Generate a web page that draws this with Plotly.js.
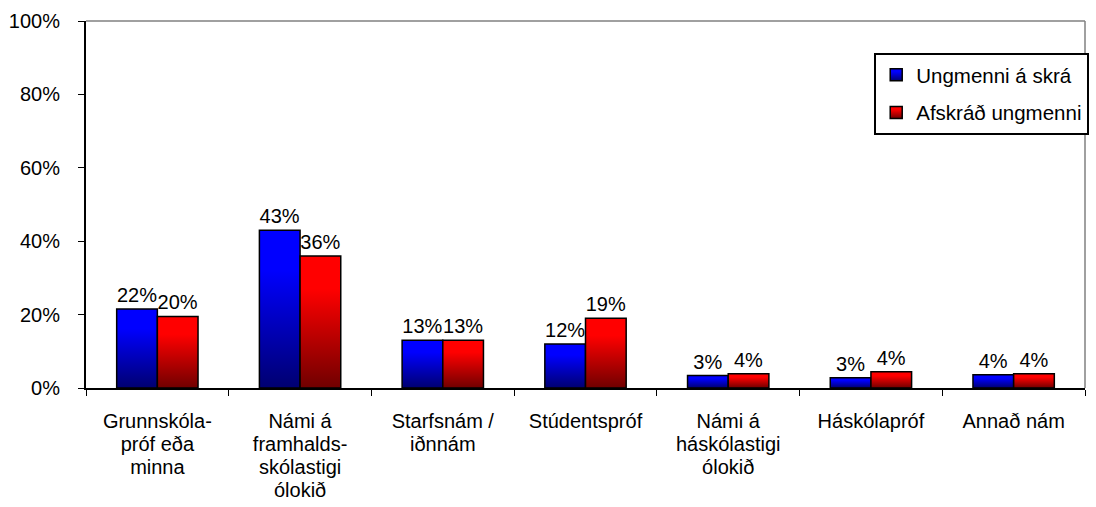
<!DOCTYPE html>
<html>
<head>
<meta charset="utf-8">
<script src="https://cdn.plot.ly/plotly-3.0.1.min.js"></script>
<style>
html,body{margin:0;padding:0;background:#fff;}
#chart{width:1096px;height:507px;}
</style>
</head>
<body>
<div id="chart"></div>
<script>
const categories = [
  "Grunnskóla-<br>próf eða<br>minna",
  "Námi á<br>framhalds-<br>skólastigi<br>ólokið",
  "Starfsnám /<br>iðnnám",
  "Stúdentspróf",
  "Námi á<br>háskólastigi<br>ólokið",
  "Háskólapróf",
  "Annað nám"
];
const seriesNames = ["Ungmenni á skrá", "Afskráð ungmenni"];
const onRegister = [0.215, 0.43, 0.13, 0.12, 0.034, 0.028, 0.036];
const deregistered = [0.195, 0.36, 0.13, 0.19, 0.039, 0.044, 0.039];
const yTickVals = [0, 0.2, 0.4, 0.6, 0.8, 1.0];

const font = {family: "Liberation Sans, Arial, sans-serif", size: 20, color: "#000"};
const legendFont = {family: "Liberation Sans, Arial, sans-serif", size: 20.5, color: "#000"};

const common = {
  type: "bar",
  texttemplate: "%{y:.0%}",
  textposition: "outside",
  cliponaxis: false,
  textfont: font,
  hoverinfo: "skip"
};

const traces = [
  Object.assign({}, common, {
    name: seriesNames[0], legendgroup: "a", x: categories, y: onRegister,
    marker: {color: "#0000ff", line: {color: "#000", width: 1.5}}
  }),
  Object.assign({}, common, {
    name: seriesNames[1], legendgroup: "b", x: categories, y: deregistered,
    marker: {color: "#ff0000", line: {color: "#000", width: 1.5}}
  })
];

const layout = {
  width: 1096, height: 507,
  margin: {l: 86, r: 11, t: 21, b: 119, autoexpand: false},
  paper_bgcolor: "#fff", plot_bgcolor: "#fff",
  font: font,
  barmode: "group",
  bargap: 0.43,
  bargroupgap: 0,
  showlegend: true,
  legend: {
    x: 0.789, xanchor: "left", y: 0.913, yanchor: "top",
    bgcolor: "#fff", bordercolor: "#000", borderwidth: 2,
    font: legendFont, itemwidth: 30,
    traceorder: "grouped", tracegroupgap: 8
  },
  xaxis: {
    type: "category", automargin: false,
    showline: true, linecolor: "#000", linewidth: 2,
    ticks: "outside", tickson: "boundaries", ticklen: 6, tickcolor: "#000", tickwidth: 1,
    showgrid: false, zeroline: false,
    tickfont: font, ticklabelstandoff: 14,
    fixedrange: true
  },
  yaxis: {
    range: [0, 1], automargin: false,
    tickvals: yTickVals, tickformat: ".0%",
    showline: true, linecolor: "#000", linewidth: 2,
    ticks: "outside", ticklen: 6, tickcolor: "#000", tickwidth: 1,
    showgrid: false, zeroline: false,
    tickfont: font, ticklabelstandoff: 14,
    fixedrange: true
  },
  shapes: [
    {type: "line", xref: "paper", yref: "paper", x0: 0, x1: 1, y0: 1, y1: 1, line: {color: "#808080", width: 1.5}},
    {type: "line", xref: "paper", yref: "paper", x0: 1, x1: 1, y0: 0, y1: 1, line: {color: "#808080", width: 1.5}}
  ]
};

function decorate(gd) {
  const svg = gd.querySelector("svg.main-svg");
  const NS = "http://www.w3.org/2000/svg";
  if (!document.getElementById("gBlue")) {
    const defs = document.createElementNS(NS, "defs");
    function grad(id, top, bottom) {
      const g = document.createElementNS(NS, "linearGradient");
      g.setAttribute("id", id);
      g.setAttribute("x1", "0"); g.setAttribute("y1", "0");
      g.setAttribute("x2", "0"); g.setAttribute("y2", "1");
      [[0, top], [0.25, top], [1, bottom]].forEach(function (s) {
        const st = document.createElementNS(NS, "stop");
        st.setAttribute("offset", s[0]);
        st.setAttribute("stop-color", s[1]);
        g.appendChild(st);
      });
      defs.appendChild(g);
    }
    grad("gBlue", "#0000ff", "#000070");
    grad("gRed", "#ff0000", "#700000");
    svg.insertBefore(defs, svg.firstChild);
  }
  const ids = ["gBlue", "gRed"];
  gd.querySelectorAll(".barlayer .trace").forEach(function (t, i) {
    t.querySelectorAll(".point path").forEach(function (p) { p.style.fill = "url(#" + ids[i] + ")"; });
  });
  gd.querySelectorAll(".legend .traces").forEach(function (t, i) {
    t.querySelectorAll(".legendpoints path").forEach(function (p) { p.style.fill = "url(#" + ids[i] + ")"; });
  });
  gd.querySelectorAll(".xtick text tspan.line").forEach(function (ts) {
    if (ts.dataset.fixed) return;
    const dy = ts.getAttribute("dy");
    if (dy && dy.indexOf("em") > 0) {
      const v = parseFloat(dy);
      ts.setAttribute("dy", (v / 1.3 * 1.15) + "em");
      ts.dataset.fixed = "1";
    }
  });
}

Plotly.newPlot("chart", traces, layout, {staticPlot: true, displayModeBar: false}).then(function (gd) {
  decorate(gd);
  gd.on("plotly_afterplot", function () { decorate(gd); });
});
</script>
</body>
</html>
